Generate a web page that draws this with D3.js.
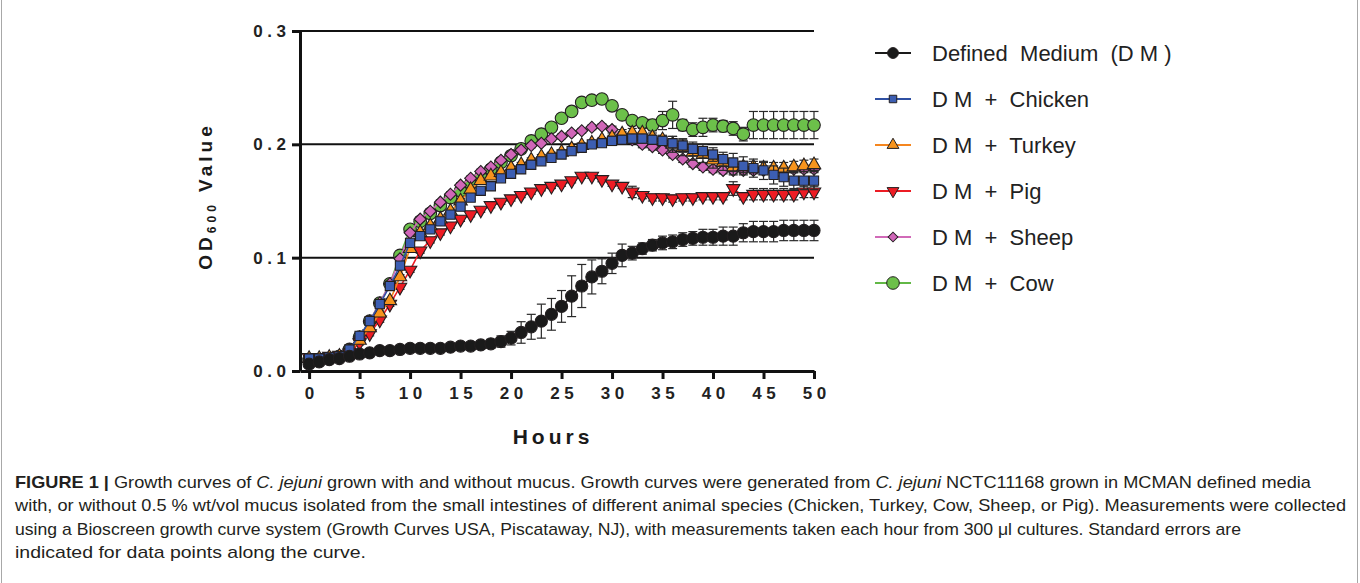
<!DOCTYPE html>
<html><head><meta charset="utf-8">
<script src="https://cdn.jsdelivr.net/npm/d3@7"></script>
<style>
body{margin:0;background:#fff;}
svg{display:block;font-family:Arial,"Liberation Sans",sans-serif;}
</style>
</head><body>
<svg id="c" width="1360" height="583"></svg>
<script>
// ---------- DATA ----------
const hours = [0,1,2,3,4,5,6,7,8,9,10,11,12,13,14,15,16,17,18,19,20,21,22,23,24,25,26,27,28,29,30,31,32,33,34,35,36,37,38,39,40,41,42,43,44,45,46,47,48,49,50];
const yTicks = [0, 0.1, 0.2, 0.3];
const xTicks = [0,5,10,15,20,25,30,35,40,45,50];
const seriesNames = ["Defined  Medium  (D M )","D M  +  Chicken","D M  +  Turkey","D M  +  Pig","D M  +  Sheep","D M  +  Cow"];

const dmValues = [.006,.008,.010,.011,.013,.015,.016,.018,.018,.019,
  .020,.020,.020,.020,.021,.022,.022,.023,.024,.026,
  .029,.034,.039,.044,.050,.057,.066,.075,.083,.088,
  .095,.102,.104,.108,.111,.113,.114,.116,.117,.118,
  .118,.119,.119,.122,.123,.123,.123,.124,.124,.124,.124];
const dmErr = [.003,.002,.002,.002,.002,.002,.002,.002,.002,.002,
  .002,.002,.002,.002,.002,.002,.002,.003,.004,.005,
  .006,.0095,.011,.015,.014,.014,.018,.019,.015,.011,
  .009,.010,.006,.005,.005,.006,.006,.006,.006,.007,
  .007,.008,.008,.008,.009,.009,.009,.009,.009,.009,.009];

const chickenValues = [.011,.011,.012,.013,.019,.031,.044,.059,.075,.093,
  .113,.119,.125,.132,.138,.145,.153,.159,.163,.170,
  .174,.178,.182,.185,.188,.191,.194,.197,.200,.201,
  .203,.204,.205,.205,.204,.203,.201,.199,.196,.194,
  .191,.187,.184,.181,.179,.177,.173,.171,.168,.168,.168];
const chickenErr = [.002,.002,.002,.002,.002,.002,.002,.002,.002,.002,
  .002,.002,.002,.002,.002,.002,.002,.002,.002,.002,
  .002,.002,.002,.002,.002,.002,.002,.002,.002,.002,
  .004,.004,.004,.004,.004,.004,.006,.006,.006,.006,
  .006,.006,.008,.008,.008,.008,.008,.008,.008,.008,.008];

const turkeyValues = [.011,.011,.012,.013,.017,.027,.038,.051,.062,.083,
  .108,.122,.128,.134,.141,.150,.160,.168,.172,.175,
  .179,.182,.186,.189,.191,.193,.196,.199,.201,.204,
  .206,.209,.210,.210,.206,.204,.200,.197,.193,.191,
  .186,.184,.180,.180,.180,.179,.179,.179,.180,.181,.182];
const turkeyErr = [.002,.002,.002,.002,.002,.002,.002,.002,.002,.002,
  .002,.002,.002,.002,.002,.002,.002,.002,.002,.002,
  .002,.002,.002,.002,.002,.002,.002,.002,.002,.002,
  .002,.004,.004,.004,.004,.004,.007,.007,.007,.007,
  .007,.007,.007,.005,.005,.005,.005,.005,.005,.005,.005];

const pigValues = [.012,.012,.013,.014,.016,.025,.033,.045,.059,.074,
  .089,.106,.115,.122,.128,.134,.138,.142,.146,.149,
  .152,.155,.158,.161,.163,.165,.168,.172,.172,.169,
  .165,.163,.158,.155,.153,.153,.152,.153,.153,.154,
  .154,.154,.161,.154,.156,.156,.156,.156,.156,.158,.158];
const pigErr = [.002,.002,.002,.002,.002,.002,.002,.002,.002,.002,
  .002,.002,.002,.002,.002,.002,.002,.002,.002,.002,
  .002,.002,.002,.002,.002,.002,.002,.002,.002,.002,
  .002,.002,.005,.003,.003,.003,.003,.003,.003,.003,
  .003,.003,.006,.003,.005,.005,.005,.005,.005,.005,.005];

const sheepValues = [.011,.011,.012,.013,.019,.030,.044,.060,.077,.099,
  .122,.134,.141,.149,.156,.164,.170,.176,.180,.186,
  .191,.195,.199,.201,.205,.207,.210,.212,.215,.216,
  .213,.208,.204,.200,.198,.195,.191,.187,.183,.180,
  .178,.177,.177,.177,.177,.177,.177,.177,.178,.178,.178];
const sheepErr = [.002,.002,.002,.002,.002,.002,.002,.002,.002,.002,
  .002,.002,.002,.002,.002,.002,.002,.002,.002,.002,
  .002,.002,.002,.002,.002,.002,.002,.002,.002,.002,
  .003,.003,.003,.003,.003,.003,.003,.003,.003,.003,
  .003,.003,.003,.003,.003,.003,.003,.003,.003,.003,.003];

const cowValues = [.010,.010,.011,.013,.019,.030,.044,.060,.077,.102,
  .125,.132,.139,.146,.153,.159,.165,.171,.178,.184,
  .190,.196,.203,.209,.215,.223,.229,.237,.239,.240,
  .234,.226,.221,.219,.217,.221,.226,.217,.213,.215,
  .217,.216,.214,.209,.217,.217,.217,.217,.217,.217,.217];
const cowErr = [.002,.002,.002,.002,.002,.002,.002,.002,.002,.002,
  .002,.002,.002,.002,.002,.002,.002,.002,.002,.002,
  .002,.002,.002,.002,.002,.002,.002,.002,.002,.002,
  .002,.002,.002,.002,.005,.008,.012,.005,.006,.008,
  .006,.005,.006,.006,.012,.012,.012,.012,.012,.012,.012];

// ---------- STYLE ----------
const styles = [
  {vals: dmValues, err: dmErr, line:"#1a1a1a", fill:"#1a1a1a", sym:"circle", size:115, lsize:92},
  {vals: chickenValues, err: chickenErr, line:"#2f50a3", fill:"#3c5eb2", sym:"square", size:85, lsize:56},
  {vals: turkeyValues, err: turkeyErr, line:"#f5861f", fill:"#f7941d", sym:"triangle", size:78, lsize:60},
  {vals: pigValues, err: pigErr, line:"#ec1c24", fill:"#ed1c24", sym:"triangleDown", size:78, lsize:60},
  {vals: sheepValues, err: sheepErr, line:"#d16ab8", fill:"#d066b8", sym:"diamond", size:72, lsize:48},
  {vals: cowValues, err: cowErr, line:"#62b846", fill:"#6cc04a", sym:"circle", size:125, lsize:125}
];

const svg = d3.select("#c");
const x = d3.scaleLinear().domain([-0.9, 50]).range([300, 814]);
const y = d3.scaleLinear().domain([0, 0.3]).range([371, 31]);

// figure frame
svg.append("rect").attr("x",1.5).attr("y",-2).attr("width",1356).attr("height",586)
  .attr("fill","none").attr("stroke","#a8a8a8").attr("stroke-width",1);

// gridlines
svg.append("g").selectAll("line").data(yTicks.slice(1)).join("line")
  .attr("x1", x(-0.9)).attr("x2", x(50))
  .attr("y1", d => y(d)).attr("y2", d => y(d))
  .attr("stroke","#111").attr("stroke-width",2);

// axes
const yAxis = svg.append("g").attr("transform",`translate(${x(-0.9)},0)`)
  .call(d3.axisLeft(y).tickValues(yTicks).tickFormat(d3.format(".1f")).tickSize(8).tickSizeOuter(0).tickPadding(6));
yAxis.select(".domain").attr("stroke","#111").attr("stroke-width",3);
yAxis.selectAll(".tick line").attr("stroke","#111").attr("stroke-width",3);
yAxis.selectAll(".tick text").attr("font-size",17).attr("font-weight","bold")
  .attr("letter-spacing","4.5px").attr("dx","4.5").attr("fill","#222")
  .attr("font-family","Arial,'Liberation Sans',sans-serif");

const xAxis = svg.append("g").attr("transform",`translate(0,${y(0)})`)
  .call(d3.axisBottom(x).tickValues(xTicks).tickSize(8).tickSizeOuter(0).tickPadding(8));
xAxis.select(".domain").attr("stroke","#111").attr("stroke-width",3);
xAxis.selectAll(".tick line").attr("stroke","#111").attr("stroke-width",3);
xAxis.selectAll(".tick text").attr("font-size",17).attr("font-weight","bold")
  .attr("letter-spacing","4.5px").attr("dx","2.25").attr("fill","#222")
  .attr("font-family","Arial,'Liberation Sans',sans-serif");

// axis titles
svg.append("text").attr("x",553).attr("y",444).attr("text-anchor","middle")
  .attr("font-size",21).attr("font-weight","bold").attr("letter-spacing","4px").attr("fill","#1a1a1a")
  .text("Hours");

const yt = svg.append("text").attr("transform","translate(212,196) rotate(-90)")
  .attr("text-anchor","middle").attr("font-size",19).attr("font-weight","bold")
  .attr("letter-spacing","4px").attr("fill","#1a1a1a");
yt.append("tspan").text("OD");
yt.append("tspan").attr("font-size",12).attr("dy",4).text("600");
yt.append("tspan").attr("dy",-4).text(" Value");

// symbols
function symPath(type, size){
  const t = {circle:d3.symbolCircle, square:d3.symbolSquare, triangle:d3.symbolTriangle,
             triangleDown:d3.symbolTriangle, diamond:d3.symbolSquare}[type];
  return d3.symbol().type(t).size(size)();
}
function symRot(type){ return type==="triangleDown" ? 180 : (type==="diamond" ? 45 : 0); }

const line = d3.line().x((d,i) => x(hours[i])).y(d => y(d));

// draw series, bottom to top: Cow, Sheep, Pig, Turkey, Chicken, DM
const order = [5,4,3,2,1,0];
order.forEach(si => {
  const s = styles[si];
  const g = svg.append("g");
  const eb = g.append("g").attr("stroke","#2a2a2a").attr("stroke-width",1.2);
  s.vals.forEach((v,i) => {
    const e = s.err[i], cx = x(hours[i]);
    eb.append("line").attr("x1",cx).attr("x2",cx).attr("y1",y(v+e)).attr("y2",y(v-e));
    eb.append("line").attr("x1",cx-4.5).attr("x2",cx+4.5).attr("y1",y(v+e)).attr("y2",y(v+e));
    eb.append("line").attr("x1",cx-4.5).attr("x2",cx+4.5).attr("y1",y(v-e)).attr("y2",y(v-e));
  });
  g.append("path").datum(s.vals).attr("d", line).attr("fill","none")
    .attr("stroke", s.line).attr("stroke-width",1.6);
  g.selectAll("path.m").data(s.vals).join("path").attr("class","m")
    .attr("d", symPath(s.sym, s.size))
    .attr("transform",(d,i) => `translate(${x(hours[i])},${y(d)}) rotate(${symRot(s.sym)})`)
    .attr("fill", s.fill).attr("stroke","#231f20").attr("stroke-width",1.1);
});

// legend
const legY = d3.scalePoint().domain(d3.range(seriesNames.length)).range([53, 283]);
const leg = svg.append("g");
seriesNames.forEach((name,i) => {
  const s = styles[i], ly = legY(i);
  leg.append("line").attr("x1",875).attr("x2",911).attr("y1",ly).attr("y2",ly)
    .attr("stroke", s.line).attr("stroke-width",2);
  leg.append("path").attr("d", symPath(s.sym, s.lsize))
    .attr("transform",`translate(893,${ly}) rotate(${symRot(s.sym)})`)
    .attr("fill", s.fill).attr("stroke","#231f20").attr("stroke-width",1);
  leg.append("text").attr("x",932).attr("y",ly+8).attr("font-size",22).attr("fill","#222")
    .style("white-space","pre").text(name);
});

// caption
const cap = svg.append("g").attr("font-family","'Liberation Sans Narrow','Arial Narrow',Arial,sans-serif")
  .attr("font-size",17).attr("fill","#231f20");
const l1 = cap.append("text").attr("x",15).attr("y",488).attr("textLength",1296).attr("lengthAdjust","spacingAndGlyphs").style("white-space","pre");
l1.append("tspan").attr("font-weight","bold").text("FIGURE 1 | ");
l1.append("tspan").text("Growth curves of ");
l1.append("tspan").attr("font-style","italic").text("C. jejuni");
l1.append("tspan").text(" grown with and without mucus. Growth curves were generated from ");
l1.append("tspan").attr("font-style","italic").text("C. jejuni");
l1.append("tspan").text(" NCTC11168 grown in MCMAN defined media");
cap.append("text").attr("x",15).attr("y",511).attr("textLength",1331).attr("lengthAdjust","spacingAndGlyphs")
  .text("with, or without 0.5 % wt/vol mucus isolated from the small intestines of different animal species (Chicken, Turkey, Cow, Sheep, or Pig). Measurements were collected");
cap.append("text").attr("x",15).attr("y",535).attr("textLength",1226).attr("lengthAdjust","spacingAndGlyphs")
  .text("using a Bioscreen growth curve system (Growth Curves USA, Piscataway, NJ), with measurements taken each hour from 300 μl cultures. Standard errors are");
cap.append("text").attr("x",15).attr("y",558).attr("textLength",351).attr("lengthAdjust","spacingAndGlyphs")
  .text("indicated for data points along the curve.");
</script>
</body></html>
